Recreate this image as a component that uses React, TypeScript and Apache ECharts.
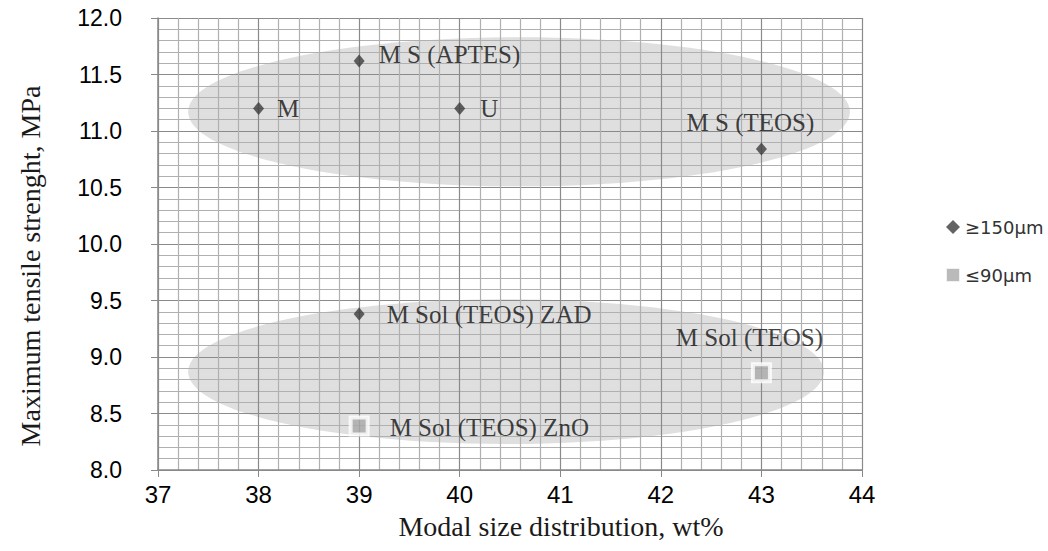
import React, { useEffect, useRef } from "react";
import * as echarts from "echarts";

// x, y, label for particles >=150 µm
const coarseX = [38, 39, 40, 43, 39];
const coarseY = [11.2, 11.62, 11.2, 10.84, 9.38];
const coarseNames = ["M", "M S (APTES)", "U", "M S (TEOS)", "M Sol (TEOS) ZAD"];
// particles <=90 µm
const fineX = [43, 39];
const fineY = [8.86, 8.39];
const fineNames = ["M Sol (TEOS)", "M Sol (TEOS) ZnO"];

// grouping ellipses: [centerX, centerY, radiusX, radiusY] in data units
const ellipseUpper = [40.59, 11.17, 3.29, 0.66];
const ellipseLower = [40.46, 8.87, 3.16, 0.64];

const xTicks = { min: 37, max: 44, interval: 1 };
const yTicks = { min: 8, max: 12, interval: 0.5 };

const seriesNames = ["≥150µm", "≤90µm"];
const xTitle = "Modal size distribution, wt%";
const yTitle = "Maximum tensile strenght, MPa";

const serif = "'Liberation Serif', 'Times New Roman', serif";
const sans = "'Liberation Sans', Arial, sans-serif";

const coarseLabelCfg: Record<string, any> = {
  M: { position: "right", distance: 13 },
  "M S (APTES)": { position: "right", distance: 14, offset: [0, -6] },
  U: { position: "right", distance: 15 },
  "M S (TEOS)": { position: "top", distance: 8, offset: [-11, 0] },
  "M Sol (TEOS) ZAD": { position: "right", distance: 22 },
};
const fineLabelCfg: Record<string, any> = {
  "M Sol (TEOS)": { position: "top", distance: 12, offset: [-12, 0] },
  "M Sol (TEOS) ZnO": { position: "right", distance: 20, offset: [0, 2] },
};

export default function App() {
  const ref = useRef<HTMLDivElement>(null);
  useEffect(() => {
    if (!ref.current) return;
    const chart = echarts.init(ref.current, undefined, { renderer: "svg" });
    const labelBase = { show: true, fontFamily: serif, fontSize: 25, color: "#111" };
    const axisCommon = {
      z: 3,
      axisLine: { show: true, lineStyle: { color: "#888888", width: 1.5 } },
      axisTick: { show: true, length: 7, lineStyle: { color: "#888888" } },
      minorTick: { show: false, splitNumber: 5 },
      splitLine: { show: true, lineStyle: { color: "#8a8a8a", width: 1.2 } },
      minorSplitLine: { show: true, lineStyle: { color: "#b0b0b0", width: 1.2 } },
    };
    const option: any = {
      animation: false,
      backgroundColor: "#ffffff",
      grid: { left: 158, right: 186, top: 18, bottom: 81 },
      xAxis: {
        type: "value",
        min: xTicks.min,
        max: xTicks.max,
        interval: xTicks.interval,
        ...axisCommon,
        axisLabel: { fontFamily: sans, fontSize: 24, color: "#000", margin: 12 },
      },
      yAxis: {
        type: "value",
        min: yTicks.min,
        max: yTicks.max,
        interval: yTicks.interval,
        ...axisCommon,
        axisLabel: {
          fontFamily: sans,
          fontSize: 23,
          color: "#000",
          margin: 36,
          formatter: (v: number) => v.toFixed(1),
        },
      },
      legend: {
        orient: "vertical",
        left: 940,
        top: 213,
        itemWidth: 14,
        itemHeight: 14,
        itemGap: 30,
        data: seriesNames,
        textStyle: { fontFamily: "'DejaVu Sans', sans-serif", fontSize: 18, color: "#333" },
      },
      graphic: [
        {
          type: "text",
          x: 30,
          y: 266,
          rotation: Math.PI / 2,
          style: {
            text: yTitle,
            fontFamily: serif,
            fontSize: 28,
            fill: "#1a1a1a",
            align: "center",
            verticalAlign: "middle",
          },
        },
        {
          type: "text",
          x: 561,
          y: 526,
          style: {
            text: xTitle,
            fontFamily: serif,
            fontSize: 28,
            fill: "#1a1a1a",
            align: "center",
            verticalAlign: "middle",
          },
        },
      ],
      series: [
        {
          type: "custom",
          z: 1,
          silent: true,
          data: [ellipseUpper, ellipseLower],
          renderItem: (params: any, api: any) => {
            const c = api.coord([api.value(0), api.value(1)]);
            const s = api.size([api.value(2), api.value(3)]);
            return {
              type: "ellipse",
              shape: { cx: c[0], cy: c[1], rx: s[0], ry: s[1] },
              style: { fill: "#dfdfdf" },
            };
          },
        },
        {
          name: seriesNames[0],
          type: "scatter",
          z: 5,
          symbol: "diamond",
          symbolSize: [11, 13],
          itemStyle: { color: "#3c3c3c" },
          data: coarseX.map((x, i) => ({
            value: [x, coarseY[i]],
            name: coarseNames[i],
            label: { ...labelBase, formatter: coarseNames[i], ...coarseLabelCfg[coarseNames[i]] },
          })),
        },
        {
          name: seriesNames[1],
          type: "scatter",
          z: 5,
          symbol: "rect",
          symbolSize: 17,
          itemStyle: { color: "#a9a9a9", borderColor: "#ffffff", borderWidth: 4 },
          data: fineX.map((x, i) => ({
            value: [x, fineY[i]],
            name: fineNames[i],
            label: { ...labelBase, formatter: fineNames[i], ...fineLabelCfg[fineNames[i]] },
          })),
        },
      ],
    };
    chart.setOption(option);
    return () => chart.dispose();
  }, []);
  return (
    <div
      ref={ref}
      style={{ position: "absolute", left: 0, top: 0, width: 1048, height: 551 }}
    />
  );
}
